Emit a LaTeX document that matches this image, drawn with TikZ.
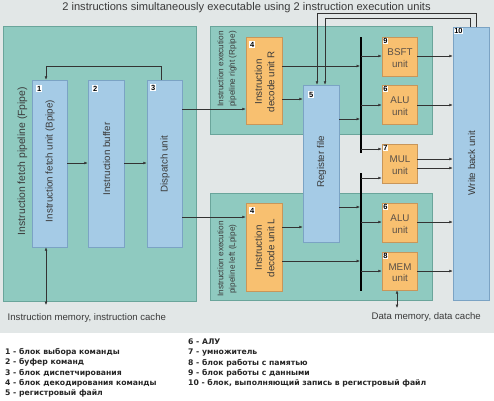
\documentclass[tikz,border=0pt]{standalone}
\usepackage{fontspec}
\setmainfont{Liberation Sans}
\newfontfamily\legfont{DejaVu Sans}
\usetikzlibrary{arrows.meta}
\definecolor{bggrey}{HTML}{E2E7E7}
\definecolor{tealf}{HTML}{8FCAC0}
\definecolor{teald}{HTML}{6AA59B}
\definecolor{bluef}{HTML}{A5CBE6}
\definecolor{blued}{HTML}{7BA3C4}
\definecolor{orf}{HTML}{F8C070}
\definecolor{ord}{HTML}{C8965A}
\definecolor{lineg}{HTML}{333333}
\definecolor{textg}{HTML}{3A3A3A}
\definecolor{unitg}{HTML}{5A5048}
\begin{document}
\begin{tikzpicture}[x=1pt,y=-1pt,
  pipe/.style={draw=teald, fill=tealf, line width=0.6pt, inner sep=0pt},
  bluebox/.style={draw=blued, fill=bluef, line width=0.6pt, inner sep=0pt},
  orbox/.style={draw=ord, fill=orf, line width=0.6pt, inner sep=0pt},
  numlab/.style={fill=white, inner sep=0.8pt, font=\bfseries\fontsize{7.5}{8}\selectfont, anchor=north west, text=black},
  vtext/.style={rotate=90, font=\fontsize{9.8}{12.5}\selectfont, align=center, text=textg},
  ptext/.style={rotate=90, font=\fontsize{8.2}{11.5}\selectfont, align=center, text=textg},
  utext/.style={font=\fontsize{9.8}{11.5}\selectfont, align=center, text=unitg},
  lbl/.style={font=\fontsize{9.6}{11}\selectfont, text=textg, inner sep=0pt},
  legend/.style={font=\legfont\bfseries\fontsize{7.7}{9}\selectfont, text=black!85, inner sep=0pt, anchor=base west},
  arr/.style={draw=lineg, line width=0.5pt, -{Latex[length=3.4pt,width=2.8pt]}},
  darr/.style={draw=lineg, line width=0.5pt, {Latex[length=3.4pt,width=2.8pt]}-{Latex[length=3.4pt,width=2.8pt]}},
  bus/.style={draw=black, line width=2.2pt}
]
\useasboundingbox (0,0) rectangle (494,400);
\fill[white] (0,0) rectangle (494,400);
\fill[bggrey] (0,0) rectangle (494,333);

% title
\node[font=\fontsize{11.1}{12}\selectfont, text=textg] (title) at (246.5,8) {2 instructions simultaneously executable using 2 instruction execution units};

% pipeline containers
\node[pipe, minimum width=193pt, minimum height=275pt] (fpipe) at (99.5,163.5) {};
\node[pipe, minimum width=222pt, minimum height=108pt] (rpipe) at (321,80) {};
\node[pipe, minimum width=222pt, minimum height=107pt] (lpipe) at (321,246.5) {};
\node[vtext, font=\fontsize{10.4}{12}\selectfont] (fpipetxt) at (22.5,161) {Instruction fetch pipeline (Fpipe)};
\node[ptext] (rpipetxt) at (227,69) {Instruction execution\\pipeline right (Rpipe)};
\node[ptext] (lpipetxt) at (227,259) {Instruction execution\\pipeline left (Lpipe)};

% fetch pipeline units
\node[bluebox, minimum width=35pt, minimum height=167pt] (u1) at (49.5,163.5) {};
\node[bluebox, minimum width=36pt, minimum height=167pt] (u2) at (106,163.5) {};
\node[bluebox, minimum width=35pt, minimum height=167pt] (u3) at (164.5,163.5) {};
\node[vtext] (u1t) at (50,161) {Instruction fetch unit (Bpipe)};
\node[vtext] (u2t) at (106.5,159) {Instruction buffer};
\node[vtext] (u3t) at (165,164) {Dispatch unit};
\node[numlab] (n1) at (36,85) {1};
\node[numlab] (n2) at (92,85) {2};
\node[numlab] (n3) at (150,84) {3};

% decode units
\node[orbox, minimum width=36pt, minimum height=87pt] (decR) at (264,80.5) {};
\node[orbox, minimum width=36pt, minimum height=88pt] (decL) at (264,247) {};
\node[vtext] (decRt) at (264.5,82) {Instruction\\decode unit R};
\node[vtext] (decLt) at (264.5,248) {Instruction\\decode unit L};
\node[numlab] (n4a) at (249,41) {4};
\node[numlab] (n4b) at (249,207) {4};

% register file
\node[bluebox, minimum width=36pt, minimum height=157pt] (rf) at (321,163.5) {};
\node[vtext] (rft) at (321.5,162) {Register file};
\node[numlab] (n5) at (308,91) {5};

% execution units
\node[orbox, minimum width=35pt, minimum height=39pt] (bsft) at (399.5,56.5) {};
\node[orbox, minimum width=35pt, minimum height=39pt] (alu1) at (399.5,104.5) {};
\node[orbox, minimum width=35pt, minimum height=39pt] (mul) at (399.5,163.5) {};
\node[orbox, minimum width=35pt, minimum height=39pt] (alu2) at (399.5,222.5) {};
\node[orbox, minimum width=35pt, minimum height=38pt] (mem) at (399.5,271) {};
\node[utext] (bsftt) at (400,58) {BSFT\\unit};
\node[utext] (alu1t) at (400,106) {ALU\\unit};
\node[utext] (mult) at (400,165) {MUL\\unit};
\node[utext] (alu2t) at (400,224) {ALU\\unit};
\node[utext] (memt) at (400,272.5) {MEM\\unit};
\node[numlab] (n9) at (382.3,37.3) {9};
\node[numlab] (n6a) at (382.3,85.3) {6};
\node[numlab] (n7) at (382.3,144.3) {7};
\node[numlab] (n6b) at (382.3,203.3) {6};
\node[numlab] (n8) at (382.3,252.3) {8};

% write back unit
\node[bluebox, minimum width=36pt, minimum height=273pt] (wb) at (471,163.5) {};
\node[vtext] (wbt) at (471.5,163) {Write back unit};
\node[numlab] (n10) at (453.3,27.3) {10};

% buses
\coordinate (bu1) at (361,37);
\coordinate (bu2) at (361,153);
\coordinate (bl1) at (361,173);
\coordinate (bl2) at (361,291);
\draw[bus] (bu1) -- (bu2);
\draw[bus] (bl1) -- (bl2);

% memory endpoints
\coordinate (imem) at (46,305);
\coordinate (dmem) at (397,308);
\node[lbl, anchor=west] (imemlbl) at (7.5,318) {Instruction memory, instruction cache};
\node[lbl, anchor=east] (dmemlbl) at (481,317) {Data memory, data cache};

% fetch pipeline connectors
\draw[arr] (u1.east |- 0,163) -- (u2.west |- 0,163);
\draw[arr] (u2.east |- 0,163) -- (u3.west |- 0,163);
\draw[arr] (u3.north -| 161,0) -- (161,66) -- (46,66) -- (u1.north -| 46,0);
\draw[darr] (u1.south -| 46,0) -- (imem);
\draw[arr] (u3.east |- 0,109) -- (decR.west |- 0,109);
\draw[arr] (u3.east |- 0,217) -- (decL.west |- 0,217);

% right pipeline
\draw[arr, shorten >=1pt] (decR.east |- 0,66) -- (bu1 |- 0,66);
\draw[arr] (decR.east |- 0,99) -- (rf.west |- 0,99);
\draw[arr, shorten >=1pt] (rf.east |- 0,119) -- (bu1 |- 0,119);
\draw[arr] (bu1 |- 0,56) -- (bsft.west |- 0,56);
\draw[arr] (bu1 |- 0,105) -- (alu1.west |- 0,105);
\draw[arr] (bu1 |- 0,149) -- (mul.west |- 0,149);
\draw[arr] (bl1 |- 0,178) -- (mul.west |- 0,178);

% left pipeline
\draw[arr, shorten >=1pt] (rf.east |- 0,207) -- (bl1 |- 0,207);
\draw[arr] (decL.east |- 0,227) -- (rf.west |- 0,227);
\draw[arr, shorten >=1pt] (decL.east |- 0,261) -- (bl1 |- 0,261);
\draw[arr] (bl1 |- 0,222) -- (alu2.west |- 0,222);
\draw[arr] (bl1 |- 0,271) -- (mem.west |- 0,271);
\draw[darr] (mem.south -| 397,0) -- (dmem);

% to write back
\draw[arr] (bsft.east |- 0,56) -- (wb.west |- 0,56);
\draw[arr] (alu1.east |- 0,105) -- (wb.west |- 0,105);
\draw[arr] (mul.east |- 0,159) -- (wb.west |- 0,159);
\draw[arr] (mul.east |- 0,168) -- (wb.west |- 0,168);
\draw[arr] (alu2.east |- 0,222) -- (wb.west |- 0,222);
\draw[arr] (mem.east |- 0,271) -- (wb.west |- 0,271);

% write back feedback
\draw[arr] (wb.north -| 476,0) -- (476,13) -- (317,13) -- (rf.north -| 317,0);
\draw[arr] (wb.north -| 470,0) -- (470,18) -- (325,18) -- (rf.north -| 325,0);

% legend
\node[legend] (l1) at (5,354.5) {1 - блок выбора команды};
\node[legend] (l2) at (5,364.7) {2 - буфер команд};
\node[legend] (l3) at (5,375) {3 - блок диспетчирования};
\node[legend] (l4) at (5,385.2) {4 - блок декодирования команды};
\node[legend] (l5) at (5,395.4) {5 - регистровый файл};
\node[legend] (l6) at (188,344.5) {6 - АЛУ};
\node[legend] (l7) at (188,354.7) {7 - умножитель};
\node[legend] (l8) at (188,365) {8 - блок работы с памятью};
\node[legend] (l9) at (188,375.2) {9 - блок работы с данными};
\node[legend] (l10) at (188,385.4) {10 - блок, выполняющий запись в регистровый файл};
\end{tikzpicture}
\end{document}
